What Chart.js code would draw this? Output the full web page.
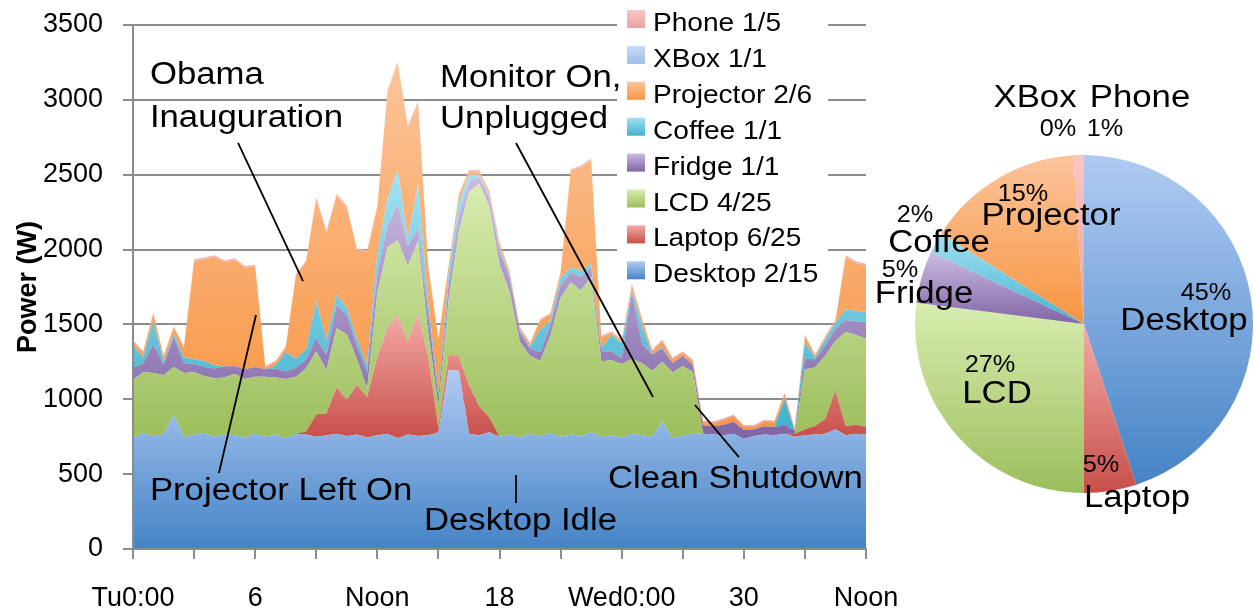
<!DOCTYPE html>
<html><head><meta charset="utf-8">
<script src="https://cdn.jsdelivr.net/npm/chart.js@4/dist/chart.umd.min.js"></script>
<style>
html,body{margin:0;padding:0;background:#fff;}
#wrap{position:relative;width:1254px;height:614px;overflow:hidden;background:#fff;}
#area{position:absolute;left:0;top:0;}
#pie{position:absolute;left:870px;top:0;}
</style></head><body>
<div id="wrap"><canvas id="area" width="1254" height="614"></canvas><canvas id="pie" width="384" height="614"></canvas></div>
<script>
// ---------- DATA ----------
const hours = [0,0.5,1,1.5,2,2.5,3,3.5,4,4.5,5,5.5,6,6.5,7,7.5,8,8.5,9,9.5,10,10.5,11,11.5,12,12.5,13,13.5,14,14.5,15,15.5,16,16.5,17,17.5,18,18.5,19,19.5,20,20.5,21,21.5,22,22.5,23,23.5,24,24.5,25,25.5,26,26.5,27,27.5,28,28.5,29,29.5,30,30.5,31,31.5,32,32.5,33,33.5,34,34.5,35,35.5,36];
const tickHours = [0,6,12,18,24,30,36];
const tickLabels = ['Tu0:00','6','Noon','18','Wed0:00','30','Noon'];
const seriesNames = ['Desktop','Laptop','LCD','Fridge','Coffee','Projector','XBox','Phone'];
const legendCounts = ['2/15','6/25','4/25','1/1','1/1','2/6','1/1','1/5'];

const desktop = [745,775,755,770,895,745,765,775,750,765, 760,745,770,750,765,740,770,765,750,760, 770,755,765,745,760,770,740,765,755,760, 780,1195,1190,770,760,780,750,765,745,770, 755,775,750,765,755,780,750,760,745,770, 760,750,850,740,760,770,770,765,760,770, 735,755,765,760,770,750,760,765,770,800, 760,770,765];
const laptop  = [0,0,0,0,0,0,0,0,0,0, 0,0,0,0,0,0,0,20,150,145, 310,240,330,270,524,710,823,625,814,524, 30,100,100,324,191,100,0,0,0,0, 0,0,0,0,0,0,0,0,0,0, 0,0,0,0,0,0,0,0,0,0, 0,0,0,0,0,20,40,57,100,260, 60,60,50];
const lcd     = [385,405,420,390,320,430,415,380,390,380, 410,390,380,400,380,395,380,420,420,290, 394,439,170,55,424,535,500,500,490,157, 150,367,825,1291,1491,1404,1150,949,638,520, 500,650,927,1015,971,1038,504,500,490,500, 480,440,400,440,460,413,0,0,0,0, 0,0,0,0,0,0,400,390,420,330, 630,600,590];
const fridge  = [80,60,195,70,200,67,55,60,65,75, 50,65,65,50,60,50,60,60,90,100, 156,133,90,110,133,145,240,135,89,133, 60,111,111,67,45,67,90,100,66,50, 60,70,88,67,89,66,67,60,40,440, 130,110,90,60,70,45,55,55,70,80, 60,45,55,55,60,20,70,55,70,80, 80,90,110];
const coffee  = [150,40,155,20,20,40,30,40,20,0, 0,0,0,0,20,130,60,70,250,100, 67,45,45,45,134,181,230,45,289,67, 30,67,89,45,15,10,20,10,10,10, 150,30,45,33,44,22,20,110,100,20, 120,0,10,0,0,0,0,0,0,0, 0,0,0,0,170,0,110,10,40,40, 70,70,70];
const projector = [20,30,45,30,40,60,657,680,725,695, 710,679,672,10,20,25,557,580,680,715, 664,671,595,760,305,714,713,747,543,245, 346,45,44,22,18,20,30,20,13,15, 60,40,30,645,690,690,70,10,10,30, 40,21,36,26,19,22,20,20,30,35, 20,15,30,30,30,5,40,12,10,10, 350,320,306];
const xbox    = [0,0,0,0,0,0,0,0,0,0, 0,0,0,0,0,0,0,0,0,0, 0,0,0,0,0,0,0,0,0,0, 0,0,0,0,0,0,0,0,0,0, 0,0,0,0,0,0,0,0,0,0, 0,0,0,0,0,0,0,0,0,0, 0,0,0,0,0,0,0,0,0,0, 0,0,0];
const phone   = [12,12,12,12,12,12,12,12,12,12, 12,12,12,12,12,12,12,12,12,12, 12,12,12,12,12,12,12,12,12,12, 12,12,12,12,12,12,12,12,12,12, 12,12,12,12,12,12,12,12,12,12, 12,12,12,12,12,12,12,12,12,12, 12,12,12,12,12,12,12,12,12,12, 12,12,12];
const pieShares = [45,5,27,5,2,15,0,1];
const piePctText = ['45%','5%','27%','5%','2%','15%','0%','1%'];

// ---------- STYLE ----------
const FONT = '"Liberation Sans", Arial, sans-serif';
const colTop = ['#b0cbf2','#f4aaa6','#d8edb0','#cbbbe2','#a3e2f2','#fcc49b','#c8dcf8','#f9c6c5'];
const colBot = ['#4583c6','#c84f4a','#9cbe5c','#8065a5','#43b2ce','#f79643','#9dbde6','#e9a2a2'];
const GRID = '#8c8c8c';
const allSeries = [desktop, laptop, lcd, fridge, coffee, projector, xbox, phone];

// series bounding boxes (for Excel-like gradients)
const cum = [];
allSeries.forEach((s, i) => { cum.push(s.map((v, k) => v + (i ? cum[i-1][k] : 0))); });
const sTop = [], sBase = [];
allSeries.forEach((s, i) => {
  let t = 0, b = Infinity;
  s.forEach((v, k) => { if (v > 0) { t = Math.max(t, cum[i][k]); b = Math.min(b, i ? cum[i-1][k] : 0); } });
  if (!isFinite(b)) b = 0;
  if (t <= b) t = b + 50;
  sTop.push(t); sBase.push(b);
});

function areaFill(i) {
  return (c) => {
    const chart = c.chart;
    if (!chart.chartArea || !chart.scales.y) return colBot[i];
    const y = chart.scales.y;
    const g = chart.ctx.createLinearGradient(0, y.getPixelForValue(sTop[i]), 0, y.getPixelForValue(sBase[i]));
    g.addColorStop(0, colTop[i]); g.addColorStop(1, colBot[i]);
    return g;
  };
}

function sText(ctx, txt, x, y, font, sx, align) {
  ctx.save();
  ctx.font = font; ctx.fillStyle = '#000'; ctx.textBaseline = 'alphabetic'; ctx.textAlign = 'left';
  const w = ctx.measureText(txt).width * sx;
  const x0 = align === 'center' ? x - w / 2 : (align === 'right' ? x - w : x);
  ctx.translate(x0, y); ctx.scale(sx, 1); ctx.fillText(txt, 0, 0);
  ctx.restore();
}

// annotations in data units (hour, watts)
const noteText = [
  {t:'Obama', h:0.83, w:3106}, {t:'Inauguration', h:0.83, w:2819},
  {t:'Monitor On,', h:15.08, w:3086}, {t:'Unplugged', h:15.08, w:2812},
  {t:'Projector Left On', h:0.83, w:327},
  {t:'Desktop Idle', h:14.29, w:127},
  {t:'Clean Shutdown', h:23.33, w:407}
];
const noteLines = [[5.16,2712,8.35,1790],[6.04,1563,4.22,508],[18.81,2712,25.54,1015],[18.81,494,18.81,307],[27.6,962,29.76,614]];

const notesPlugin = {
  id: 'notes',
  afterDatasetsDraw(chart) {
    const ctx = chart.ctx, xs = chart.scales.x, ys = chart.scales.y;
    ctx.save();
    ctx.strokeStyle = '#000'; ctx.lineWidth = 1.8;
    noteLines.forEach(l => {
      ctx.beginPath();
      ctx.moveTo(xs.getPixelForValue(l[0]), ys.getPixelForValue(l[1]));
      ctx.lineTo(xs.getPixelForValue(l[2]), ys.getPixelForValue(l[3]));
      ctx.stroke();
    });
    ctx.restore();
    noteText.forEach(n => sText(ctx, n.t, xs.getPixelForValue(n.h), ys.getPixelForValue(n.w), '31px ' + FONT, 1.12, 'left'));
  }
};

const legendPlugin = {
  id: 'sideLegend',
  beforeDatasetsDraw(chart) {
    const ctx = chart.ctx;
    ctx.save(); ctx.fillStyle = '#fff'; ctx.fillRect(617, 0, 211, 292); ctx.restore();
  },
  afterDraw(chart) {
    const ctx = chart.ctx;
    for (let j = 0; j < seriesNames.length; j++) {
      const i = seriesNames.length - 1 - j;
      const base = 31 + j * 35.9;
      const g = ctx.createLinearGradient(0, base - 21, 0, base - 3);
      g.addColorStop(0, colTop[i]); g.addColorStop(1, colBot[i]);
      ctx.save(); ctx.fillStyle = g; ctx.fillRect(627, base - 21, 18, 18); ctx.restore();
      sText(ctx, seriesNames[i] + ' ' + legendCounts[i], 653, base, '26px ' + FONT, 1.08, 'left');
    }
  }
};

new Chart(document.getElementById('area'), {
  type: 'line',
  data: {
    labels: hours,
    datasets: allSeries.map((s, i) => ({
      label: seriesNames[i] + ' ' + legendCounts[i],
      data: s,
      fill: i === 0 ? 'origin' : '-1',
      backgroundColor: areaFill(i),
      borderColor: 'rgba(0,0,0,0)',
      borderWidth: 1,
      pointRadius: 0,
      tension: 0
    }))
  },
  options: {
    responsive: false, animation: false, events: [],
    layout: { padding: { top: 25, right: 388, bottom: 0, left: 0 } },
    plugins: { legend: { display: false }, tooltip: { enabled: false } },
    scales: {
      x: {
        type: 'linear', min: 0, max: 36,
        ticks: { stepSize: 3, autoSkip: false, maxRotation: 0, padding: 23, color: '#000',
          font: { family: FONT, size: 27 },
          callback: (v) => { const k = tickHours.indexOf(v); return k >= 0 ? tickLabels[k] : ''; } },
        grid: { drawOnChartArea: false, drawTicks: true, tickLength: 10, color: GRID, lineWidth: 2 },
        border: { color: GRID, width: 2, z: 1 },
        afterFit: (s) => { s.height = 65; }
      },
      y: {
        stacked: true, min: 0, max: 3500,
        ticks: { stepSize: 500, padding: 20, color: '#000', font: { family: FONT, size: 27, lineHeight: 0.3 },
          callback: (v) => String(v) },
        grid: { color: GRID, lineWidth: 2, tickLength: 10 },
        border: { color: GRID, width: 2, z: 1 },
        title: { display: true, text: 'Power (W)', color: '#000', font: { family: FONT, size: 27, weight: 'bold' }, padding: { top: 12, bottom: 0 } },
        afterFit: (s) => { s.width = 133; }
      }
    }
  },
  plugins: [legendPlugin, notesPlugin]
});

// ---------- PIE ----------
function pieFill(c) {
  const i = c.dataIndex, chart = c.chart, ca = chart.chartArea;
  if (!ca) return colBot[i];
  const cx = (ca.left + ca.right) / 2, cy = (ca.top + ca.bottom) / 2, r = Math.min(ca.width, ca.height) / 2;
  const total = pieShares.reduce((a, b) => a + b, 0);
  let before = 0; for (let k = 0; k < i; k++) before += pieShares[k];
  const a0 = -Math.PI / 2 + 2 * Math.PI * before / total;
  const a1 = a0 + 2 * Math.PI * pieShares[i] / total;
  const ys = [cy, cy + r * Math.sin(a0), cy + r * Math.sin(a1)];
  [-Math.PI / 2, Math.PI / 2, 3 * Math.PI / 2].forEach(a => { if (a >= a0 && a <= a1) ys.push(cy + r * Math.sin(a)); });
  const y0 = Math.min(...ys), y1 = Math.max(...ys);
  const g = chart.ctx.createLinearGradient(0, y0, 0, Math.max(y1, y0 + 1));
  g.addColorStop(0, colTop[i]); g.addColorStop(1, colBot[i]);
  return g;
}
// label placement relative to pie centre (px): [nameDx, nameDy, pctDx, pctDy]
const pieLabelPos = [
  [100, 6, 122, -24], [53, 183, 17, 148], [-87, 79, -94, 48], [-160, -21, -184, -47],
  [-145, -72, -169, -102], [-33, -99, -61, -123], [-49, -217, -26, -188], [56, -217, 21, -188]
];
const pieLabels = {
  id: 'pieLabels',
  afterDraw(chart) {
    const ctx = chart.ctx, ca = chart.chartArea;
    const cx = (ca.left + ca.right) / 2, cy = (ca.top + ca.bottom) / 2;
    seriesNames.forEach((n, i) => {
      const p = pieLabelPos[i];
      sText(ctx, n, cx + p[0], cy + p[1], '31px ' + FONT, 1.12, 'center');
      sText(ctx, piePctText[i], cx + p[2], cy + p[3], '23px ' + FONT, 1.1, 'center');
    });
  }
};
new Chart(document.getElementById('pie'), {
  type: 'pie',
  data: { labels: seriesNames, datasets: [{ data: pieShares, backgroundColor: pieFill, borderWidth: 0, hoverOffset: 0, offset: 0 }] },
  options: {
    responsive: false, animation: false, events: [],
    layout: { padding: { left: 45, right: 1, top: 155, bottom: 121 } },
    plugins: { legend: { display: false }, tooltip: { enabled: false } }
  },
  plugins: [pieLabels]
});
</script>
</body></html>
